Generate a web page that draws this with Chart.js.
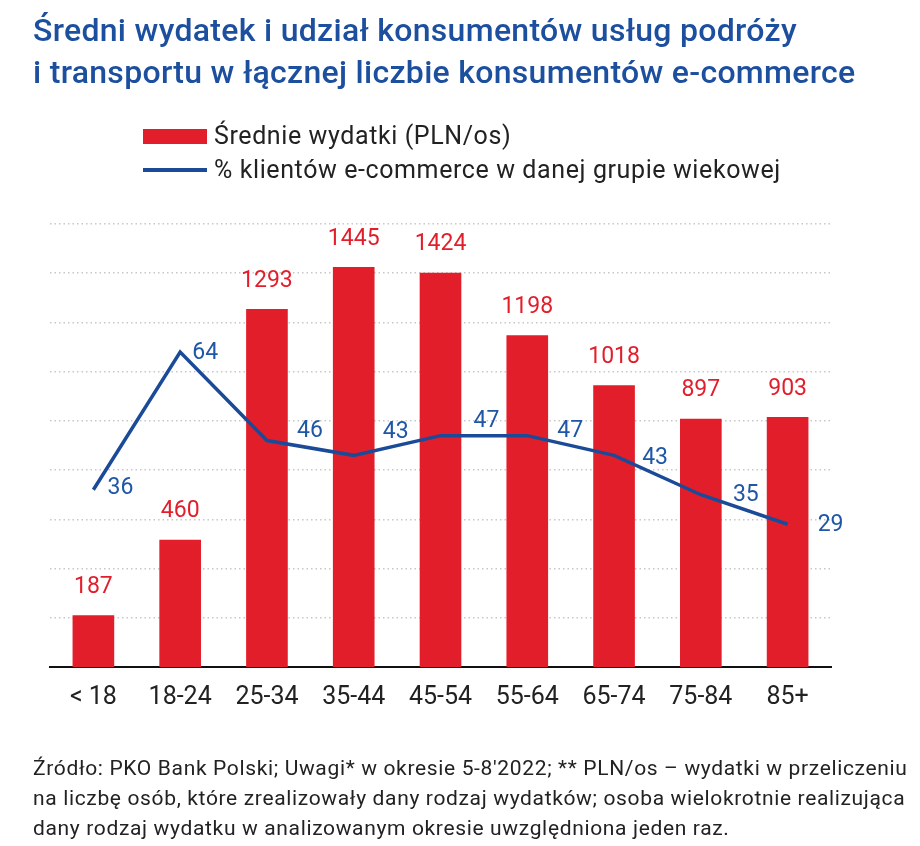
<!DOCTYPE html>
<html>
<head>
<meta charset="utf-8">
<script src="https://cdn.jsdelivr.net/npm/chart.js@4/dist/chart.umd.min.js"></script>
<style>
  body { margin: 0; width: 920px; height: 846px; background: #fff; position: relative; overflow: hidden; font-family: Roboto, sans-serif; }
  canvas { position: absolute; left: 0; top: 0; }
  #title { position: absolute; left: 33px; top: 9px; color: #1d4f9f; font-size: 32px; font-weight: 500; letter-spacing: 0.3px; line-height: 42px; white-space: nowrap; }
  #legend { position: absolute; left: 143px; top: 119px; font-size: 25px; letter-spacing: 0.6px; line-height: 34px; color: #222; white-space: nowrap; }
  .item { display: flex; align-items: center; }
  .sw { width: 64px; margin-right: 7px; }
  #note { position: absolute; left: 33px; top: 753px; font-size: 21px; letter-spacing: 0.65px; line-height: 30px; color: #222; white-space: nowrap; }
</style>
</head>
<body>
<canvas id="myChart" width="920" height="846"></canvas>
<div id="title">Średni wydatek i udział konsumentów usług podróży<br>i transportu w łącznej liczbie konsumentów e-commerce</div>
<div id="legend"></div>
<div id="note">Źródło: PKO Bank Polski; Uwagi* w okresie 5-8'2022; ** PLN/os – wydatki w przeliczeniu<br>na liczbę osób, które zrealizowały dany rodzaj wydatków; osoba wielokrotnie realizująca<br>dany rodzaj wydatku w analizowanym okresie uwzględniona jeden raz.</div>
<script>
const categories = ['< 18', '18-24', '25-34', '35-44', '45-54', '55-64', '65-74', '75-84', '85+'];
const spending = [187, 460, 1293, 1445, 1424, 1198, 1018, 897, 903];
const share = [36, 64, 46, 43, 47, 47, 43, 35, 29];
const seriesNames = ['Średnie wydatki (PLN/os)', '% klientów e-commerce w danej grupie wiekowej'];

const red = '#e31e2b';
const blue = '#1b4b98';

// value labels: red above the bars, blue beside the line points
const valueLabels = {
    id: 'valueLabels',
    afterDatasetsDraw(chart, args, opts) {
        const ctx = chart.ctx;
        ctx.save();
        ctx.font = '23px Roboto';
        ctx.textAlign = 'center';
        ctx.textBaseline = 'middle';
        chart.getDatasetMeta(1).data.forEach((bar, i) => {
            ctx.fillStyle = red;
            ctx.fillText(spending[i], bar.x, bar.y - 28);
        });
        chart.getDatasetMeta(0).data.forEach((pt, i) => {
            const s = opts.shift[i];
            ctx.fillStyle = '#1f56a6';
            ctx.fillText(share[i], pt.x + s[0], pt.y + s[1]);
        });
        ctx.restore();
    }
};

var ctx = document.getElementById('myChart');
var chart = new Chart(ctx, {
    type: 'bar',
    data: {
        labels: categories,
        datasets: [
            {
                type: 'line',
                label: seriesNames[1],
                data: share,
                yAxisID: 'y1',
                borderColor: blue,
                borderWidth: 3.5,
                pointRadius: 0,
                tension: 0,
                fill: false,
                order: 0
            },
            {
                label: seriesNames[0],
                data: spending,
                yAxisID: 'y',
                backgroundColor: red,
                barPercentage: 0.48,
                categoryPercentage: 1,
                order: 1
            }
        ]
    },
    options: {
        responsive: false,
        animation: false,
        layout: { padding: { left: 50, right: 89, top: 224, bottom: 139 } },
        scales: {
            x: {
                grid: { display: false, drawTicks: false },
                border: { display: true, color: '#111', width: 2 },
                ticks: { color: '#222', font: { family: 'Roboto', size: 25 }, padding: 16, maxRotation: 0 },
                afterFit(scale) { scale.height = 40; }
            },
            y: { display: false, min: 0, max: 1600 },
            y1: {
                position: 'right',
                min: 0, max: 90,
                ticks: { display: false, stepSize: 10 },
                grid: { color: '#c8c8c8', lineWidth: 1.5, drawTicks: false },
                border: { display: false, dash: [1.5, 3] },
                afterFit(scale) { scale.width = 0; }
            }
        },
        plugins: {
            legend: { display: false },
            tooltip: { enabled: false },
            valueLabels: { shift: [[27, -2], [25, 1], [43, -9], [42, -23], [46, -14], [43, -4], [41, 3], [45, 1], [43, 1]] }
        }
    },
    plugins: [valueLabels]
});

// legend built from the chart datasets
const legend = document.getElementById('legend');
[1, 0].forEach(i => {
    const ds = chart.data.datasets[i];
    const item = document.createElement('div');
    item.className = 'item';
    const sw = document.createElement('span');
    sw.className = 'sw';
    if (ds.type === 'line') {
        sw.style.height = '4px';
        sw.style.background = ds.borderColor;
    } else {
        sw.style.height = '15px';
        sw.style.background = ds.backgroundColor;
    }
    const txt = document.createElement('span');
    txt.textContent = ds.label;
    item.appendChild(sw);
    item.appendChild(txt);
    legend.appendChild(item);
});
</script>
</body>
</html>
